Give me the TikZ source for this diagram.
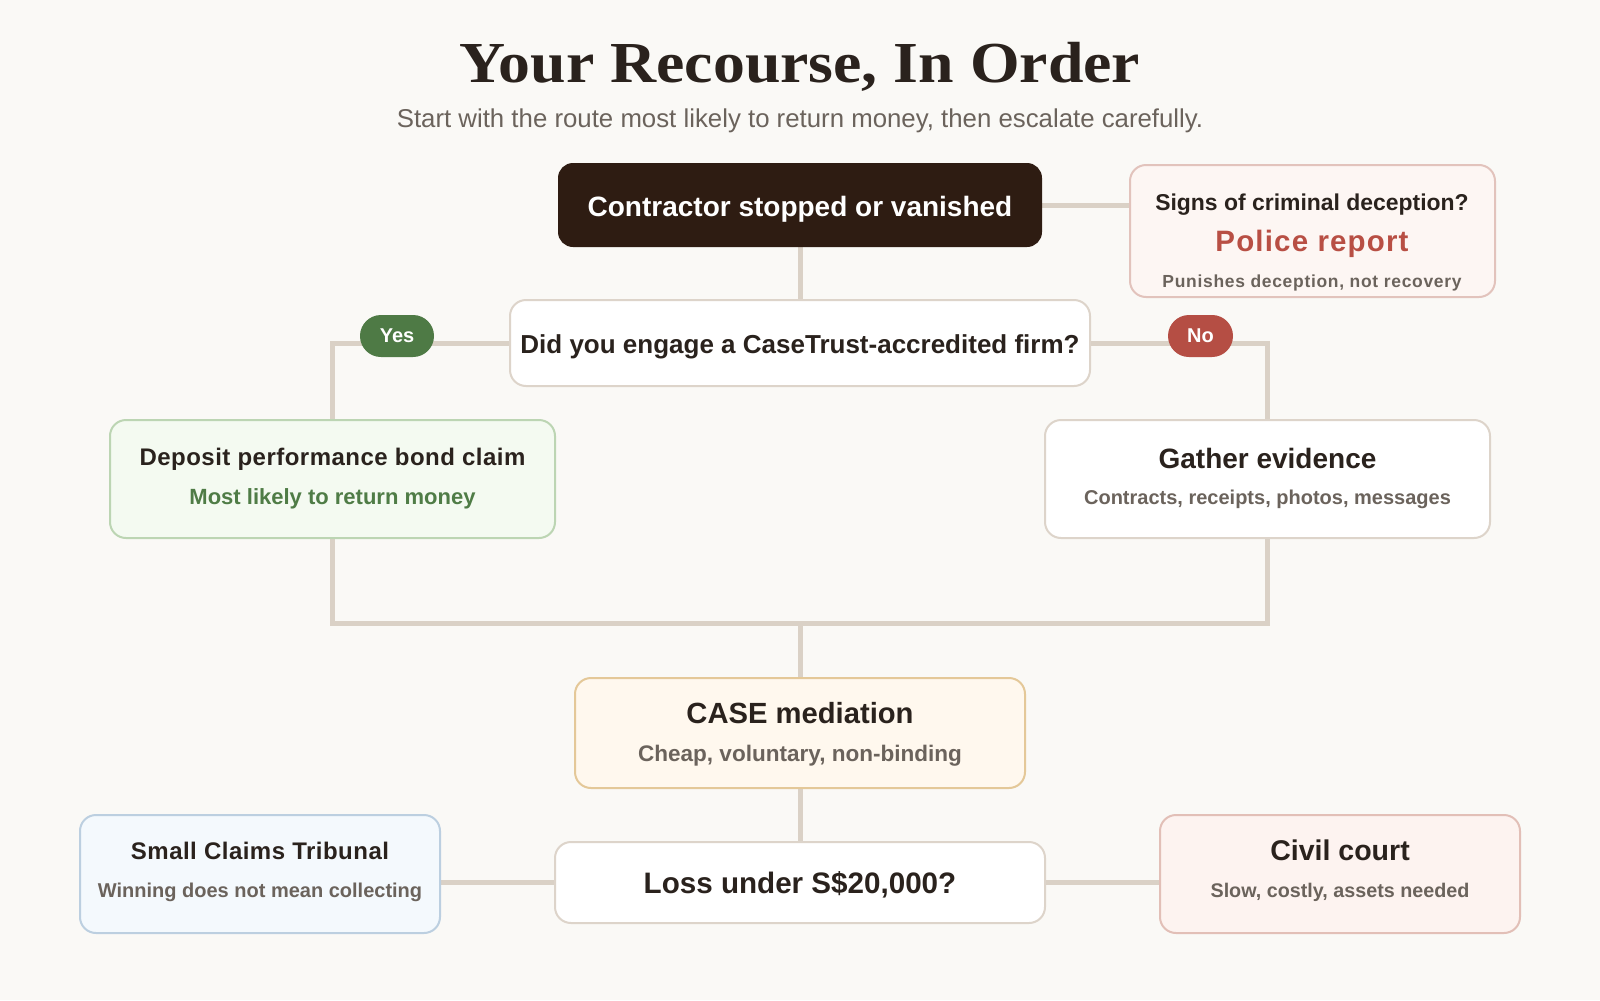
\documentclass[tikz,border=0pt]{standalone}
\usepackage{fontspec}
\setmainfont{Liberation Sans}
\newfontfamily\serifB{Liberation Serif}
\newfontfamily\lsTwo{Liberation Sans}[LetterSpace=2]
\newfontfamily\lsFour{Liberation Sans}[LetterSpace=4]
\newcommand\fsz[1]{\fontsize{#1}{#1}\selectfont}
\definecolor{bgc}{HTML}{FAF9F6}
\definecolor{connc}{HTML}{DAD1C6}
\definecolor{darkc}{HTML}{2E1C12}
\definecolor{inkc}{HTML}{2A221D}
\definecolor{grayc}{HTML}{6B635C}
\definecolor{redc}{HTML}{B84F44}
\definecolor{pillred}{HTML}{B54E44}
\definecolor{greenc}{HTML}{4F7C46}
\definecolor{pillgreen}{HTML}{4E7A45}
\definecolor{wbord}{HTML}{DDD4CA}
\definecolor{depfill}{HTML}{F4FAF1}
\definecolor{depbord}{HTML}{BCD5B3}
\definecolor{polfill}{HTML}{FDF6F3}
\definecolor{polbord}{HTML}{E2C3BC}
\definecolor{casefill}{HTML}{FFF8EE}
\definecolor{casebord}{HTML}{E4C898}
\definecolor{scfill}{HTML}{F4F9FD}
\definecolor{scbord}{HTML}{BCCFE0}
\definecolor{civfill}{HTML}{FDF3F0}
\definecolor{civbord}{HTML}{E2BFB7}
\pgfdeclarelayer{back}
\pgfdeclarelayer{bg}
\pgfsetlayers{back,bg,main}
\tikzset{
  box/.style={draw, rounded corners=12pt, line width=1.5pt, inner sep=0pt, outer sep=0pt, anchor=north west},
  txt/.style={inner sep=0pt, outer sep=0pt, anchor=base},
  conn/.style={draw=connc, line width=3.75pt},
  pill/.style={rounded corners=15.7pt, inner sep=0pt, outer sep=0pt, minimum height=31.5pt, text=white, font=\bfseries\fsz{15}}
}
\begin{document}
\begin{tikzpicture}[x=0.75pt,y=-0.75pt]
\begin{pgfonlayer}{back}
\fill[bgc] (0,0) rectangle (1600,1000);
\end{pgfonlayer}
\useasboundingbox (0,0) rectangle (1600,1000);

% title
\node[txt, text=inkc, font=\serifB\bfseries\fsz{43.5}] (title) at (800,82) {\scalebox{1.1}[1]{Your Recourse, In Order}};
\node[txt, text=grayc, font=\fsz{19.35}] (subtitle) at (800,127) {Start with the route most likely to return money, then escalate carefully.};

% boxes
\node[box, fill=darkc, draw=darkc, rounded corners=10.5pt, minimum width=482*0.75pt, minimum height=82*0.75pt] (top) at (559,164) {};
\node[txt, text=white, font=\bfseries\fsz{21}] (top-t) at (800,216) {Contractor stopped or vanished};

\node[box, fill=polfill, draw=polbord, minimum width=365*0.75pt, minimum height=132*0.75pt] (pol) at (1130,165) {};
\node[txt, text=inkc, font=\bfseries\fsz{17.2}] (pol-t) at (1312,210.7) {Signs of criminal deception?};
\node[txt, text=redc, font=\lsFour\bfseries\fsz{22.1}] (pol-r) at (1312,251) {Police report};
\node[txt, text=grayc, font=\lsFour\bfseries\fsz{13.1}] (pol-s) at (1312,287.3) {Punishes deception, not recovery};

\node[box, fill=white, draw=wbord, minimum width=580*0.75pt, minimum height=86*0.75pt] (q) at (510,300) {};
\node[txt, text=inkc, font=\bfseries\fsz{19.5}] (q-t) at (800,353) {Did you engage a CaseTrust-accredited firm?};

\node[box, fill=depfill, draw=depbord, minimum width=445*0.75pt, minimum height=118*0.75pt] (dep) at (110,420) {};
\node[txt, text=inkc, font=\lsTwo\bfseries\fsz{18}] (dep-t) at (332.5,465.7) {Deposit performance bond claim};
\node[txt, text=greenc, font=\bfseries\fsz{16.5}] (dep-s) at (332.5,504) {Most likely to return money};

\node[box, fill=white, draw=wbord, minimum width=445*0.75pt, minimum height=118*0.75pt] (gat) at (1045,420) {};
\node[txt, text=inkc, font=\bfseries\fsz{21}] (gat-t) at (1267.5,468.3) {Gather evidence};
\node[txt, text=grayc, font=\bfseries\fsz{15}] (gat-s) at (1267.5,504) {Contracts, receipts, photos, messages};

\node[box, fill=casefill, draw=casebord, minimum width=450*0.75pt, minimum height=110*0.75pt] (case) at (575,678) {};
\node[txt, text=inkc, font=\bfseries\fsz{21.9}] (case-t) at (800,723.3) {CASE mediation};
\node[txt, text=grayc, font=\bfseries\fsz{16.9}] (case-s) at (800,761.7) {Cheap, voluntary, non-binding};

\node[box, fill=white, draw=wbord, minimum width=490*0.75pt, minimum height=81*0.75pt] (loss) at (555,842) {};
\node[txt, text=inkc, font=\bfseries\fsz{22.2}] (loss-t) at (800,893.3) {Loss under S\$20,000?};

\node[box, fill=scfill, draw=scbord, minimum width=360*0.75pt, minimum height=118*0.75pt] (sc) at (80,815) {};
\node[txt, text=inkc, font=\lsTwo\bfseries\fsz{18}] (sc-t) at (260,859.3) {Small Claims Tribunal};
\node[txt, text=grayc, font=\bfseries\fsz{15}] (sc-s) at (260,897.7) {Winning does not mean collecting};

\node[box, fill=civfill, draw=civbord, minimum width=360*0.75pt, minimum height=118*0.75pt] (civ) at (1160,815) {};
\node[txt, text=inkc, font=\bfseries\fsz{21.4}] (civ-t) at (1340,860) {Civil court};
\node[txt, text=grayc, font=\bfseries\fsz{14.8}] (civ-s) at (1340,897.7) {Slow, costly, assets needed};

% pills
\node[pill, fill=pillgreen, minimum width=74*0.75pt] (yes) at (397,336) {Yes};
\node[pill, fill=pillred, minimum width=65*0.75pt] (no) at (1200.5,336) {No};

% connectors
\begin{pgfonlayer}{bg}
\coordinate (merge) at (800,623);
\draw[conn] (top.east) -- (top.east -| pol.west);
\draw[conn] (top.south) -- (q.north);
\draw[conn] (q.west) -- (q.west -| dep.north) -- (dep.north);
\draw[conn] (q.east) -- (q.east -| gat.north) -- (gat.north);
\draw[conn] (dep.south) -- (dep.south |- merge) -- (gat.south |- merge) -- (gat.south);
\draw[conn] (merge) -- (case.north);
\draw[conn] (case.south) -- (loss.north);
\draw[conn] (loss.west) -- (loss.west -| sc.east);
\draw[conn] (loss.east) -- (loss.east -| civ.west);
\end{pgfonlayer}
\end{tikzpicture}
\end{document}
